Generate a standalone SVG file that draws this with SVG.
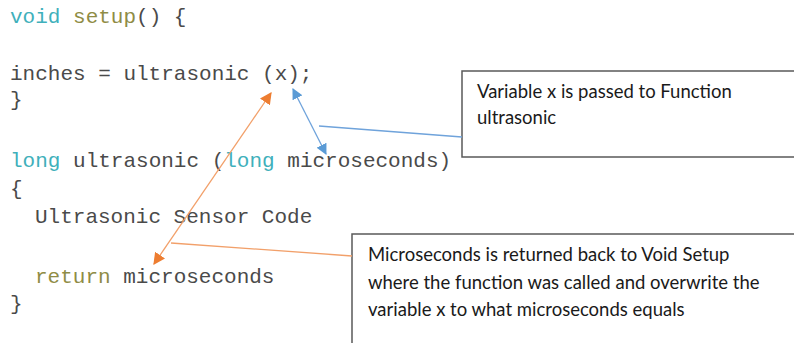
<svg xmlns="http://www.w3.org/2000/svg" width="794" height="343" viewBox="0 0 794 343">
<defs>
<style>
.code{font-family:"Liberation Mono","Courier New",monospace;font-size:21px;fill:#4a4a4a}
.kw{fill:#3fb0bb}
.fn{fill:#8f8c45}
.note{font-family:Lato,"Open Sans",sans-serif;font-size:18.5px;fill:#1a1a1a}
.box{fill:#fff;stroke:#595959;stroke-width:1.5}
.blue{stroke:#6fa3db;stroke-width:1.3;fill:none}
.orange{stroke:#f2a06a;stroke-width:1.3;fill:none}
</style>
<marker id="ab" viewBox="0 0 10 10" refX="9" refY="5" markerWidth="11" markerHeight="11" markerUnits="userSpaceOnUse" orient="auto-start-reverse">
<path d="M0,0 L10,5 L0,10 z" fill="#5b9bd5"/>
</marker>
<marker id="ao" viewBox="0 0 10 10" refX="9" refY="5" markerWidth="12" markerHeight="12" markerUnits="userSpaceOnUse" orient="auto-start-reverse">
<path d="M0,0 L10,5 L0,10 z" fill="#ed7d31"/>
</marker>
</defs>
<rect width="794" height="343" fill="#fff"/>
<g id="code">
<text class="code" x="10" y="23"><tspan class="kw">void</tspan> <tspan class="fn">setup</tspan>() {</text>
<text class="code" x="10" y="80">inches = ultrasonic (x);</text>
<text class="code" x="10" y="106">}</text>
<text class="code" x="10" y="167"><tspan class="kw">long</tspan> ultrasonic (<tspan class="kw">long</tspan> microseconds)</text>
<text class="code" x="10" y="195">{</text>
<text class="code" x="35" y="223">Ultrasonic Sensor Code</text>
<text class="code" x="35" y="283"><tspan class="fn">return</tspan> microseconds</text>
<text class="code" x="10" y="310">}</text>
</g>
<g id="note1">
<rect class="box" x="462" y="71" width="340" height="86"/>
<text class="note" x="477" y="98">Variable x is passed to Function</text>
<text class="note" x="477" y="124">ultrasonic</text>
</g>
<g id="note2">
<rect class="box" x="352" y="234" width="450" height="120"/>
<text class="note" x="368" y="261">Microseconds is returned back to Void Setup</text>
<text class="note" x="368" y="289">where the function was called and overwrite the</text>
<text class="note" x="368" y="316">variable x to what microseconds equals</text>
</g>
<g id="connectors">
<line class="blue" x1="293" y1="89" x2="326" y2="154" marker-start="url(#ab)" marker-end="url(#ab)"/>
<line class="blue" x1="462" y1="137" x2="319" y2="126"/>
<line class="orange" x1="271" y1="93" x2="154" y2="264" marker-start="url(#ao)" marker-end="url(#ao)"/>
<line class="orange" x1="171" y1="243" x2="352" y2="256"/>
</g>
</svg>
